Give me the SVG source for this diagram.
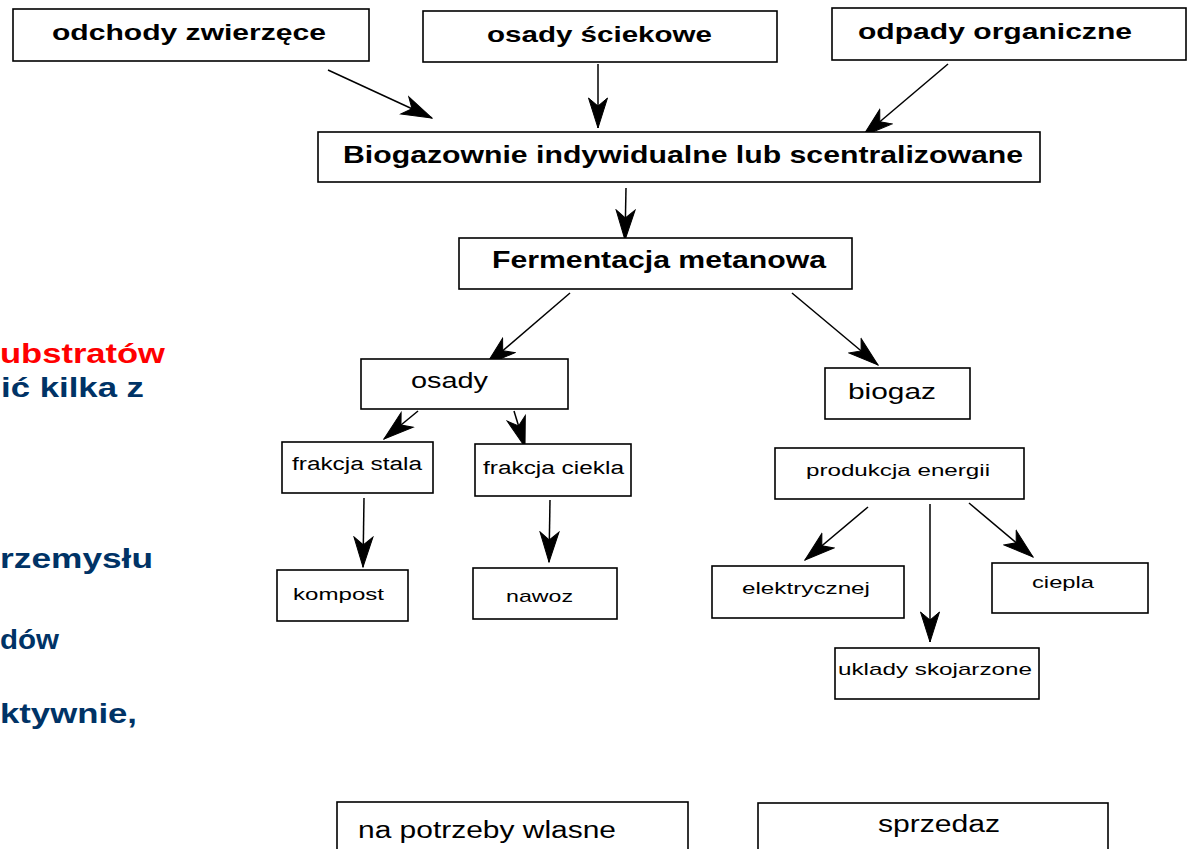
<svg xmlns="http://www.w3.org/2000/svg" width="1188" height="849" viewBox="0 0 1188 849">
<style>
.box{fill:#fff;stroke:#000;stroke-width:1.6}
.b{font-family:"Liberation Sans",Arial,sans-serif;font-weight:bold;fill:#000}
.n{font-family:"Liberation Sans",Arial,sans-serif;fill:#000}
.c{stroke:#000;stroke-width:1.5;fill:none;marker-end:url(#ah)}
.bg{font-family:"Liberation Sans",Arial,sans-serif;font-weight:bold;font-size:28px;fill:#003366}
</style>
<defs>
<marker id="ah" markerUnits="userSpaceOnUse" viewBox="-31 -11 32 22" refX="0" refY="0" markerWidth="32" markerHeight="22" orient="auto">
<path d="M0,0 L-30,-9.5 L-22,0 L-30,9.5 Z" fill="#000" stroke="#000" stroke-width="1" stroke-linejoin="miter"/>
</marker>
</defs>
<rect width="1188" height="849" fill="#fff"/>
<g id="background-text">
<text class="b" x="0" y="363" font-size="27" style="fill:#ff0000" textLength="165" lengthAdjust="spacingAndGlyphs">ubstratów</text>
<text class="bg" x="1" y="397" textLength="143" lengthAdjust="spacingAndGlyphs">ić kilka z</text>
<text class="bg" x="0" y="568" textLength="153" lengthAdjust="spacingAndGlyphs">rzemysłu</text>
<text class="bg" x="0" y="649" textLength="59" lengthAdjust="spacingAndGlyphs">dów</text>
<text class="bg" x="0" y="723" textLength="137" lengthAdjust="spacingAndGlyphs">ktywnie,</text>
</g>
<g id="connectors">
<line class="c" x1="328" y1="70" x2="432" y2="118"/>
<line class="c" x1="598" y1="64" x2="598" y2="128"/>
<line class="c" x1="948" y1="64" x2="863" y2="136"/>
<line class="c" x1="626" y1="188" x2="625" y2="240"/>
<line class="c" x1="570" y1="293" x2="486" y2="365"/>
<line class="c" x1="792" y1="293" x2="878" y2="365"/>
<line class="c" x1="418" y1="411" x2="384" y2="439"/>
<line class="c" x1="514" y1="411" x2="525" y2="447"/>
<line class="c" x1="364" y1="498" x2="363" y2="567"/>
<line class="c" x1="550" y1="500" x2="549" y2="562"/>
<line class="c" x1="868" y1="507" x2="805" y2="560"/>
<line class="c" x1="930" y1="504" x2="930" y2="642"/>
<line class="c" x1="969" y1="503" x2="1033" y2="557"/>
</g>
<g id="odchody">
<rect class="box" x="13" y="9" width="356" height="52"/>
<text class="b" x="52" y="40" font-size="22" textLength="274" lengthAdjust="spacingAndGlyphs">odchody zwierzęce</text>
</g>
<g id="osady-sciekowe">
<rect class="box" x="423" y="11" width="354" height="51"/>
<text class="b" x="487" y="42" font-size="22" textLength="225" lengthAdjust="spacingAndGlyphs">osady ściekowe</text>
</g>
<g id="odpady">
<rect class="box" x="832" y="8" width="354" height="52"/>
<text class="b" x="858" y="39" font-size="22" textLength="274" lengthAdjust="spacingAndGlyphs">odpady organiczne</text>
</g>
<g id="biogazownie">
<rect class="box" x="318" y="132" width="722" height="50"/>
<text class="b" x="343" y="163" font-size="23" textLength="680" lengthAdjust="spacingAndGlyphs">Biogazownie indywidualne lub scentralizowane</text>
</g>
<g id="fermentacja">
<rect class="box" x="459" y="238" width="393" height="51"/>
<text class="b" x="492" y="268" font-size="23" textLength="334" lengthAdjust="spacingAndGlyphs">Fermentacja metanowa</text>
</g>
<g id="osady">
<rect class="box" x="361" y="359" width="207" height="50"/>
<text class="n" x="411" y="388" font-size="22" textLength="77" lengthAdjust="spacingAndGlyphs">osady</text>
</g>
<g id="biogaz">
<rect class="box" x="825" y="368" width="145" height="51"/>
<text class="n" x="848" y="399" font-size="22" textLength="88" lengthAdjust="spacingAndGlyphs">biogaz</text>
</g>
<g id="frakcja-stala">
<rect class="box" x="282" y="442" width="151" height="51"/>
<text class="n" x="292" y="470" font-size="18" textLength="130" lengthAdjust="spacingAndGlyphs">frakcja stala</text>
</g>
<g id="frakcja-ciekla">
<rect class="box" x="475" y="444" width="156" height="52"/>
<text class="n" x="483" y="474" font-size="18" textLength="141" lengthAdjust="spacingAndGlyphs">frakcja ciekla</text>
</g>
<g id="produkcja">
<rect class="box" x="775" y="448" width="249" height="51"/>
<text class="n" x="806" y="476" font-size="17" textLength="184" lengthAdjust="spacingAndGlyphs">produkcja energii</text>
</g>
<g id="kompost">
<rect class="box" x="277" y="570" width="131" height="51"/>
<text class="n" x="293" y="600" font-size="17" textLength="91" lengthAdjust="spacingAndGlyphs">kompost</text>
</g>
<g id="nawoz">
<rect class="box" x="473" y="568" width="144" height="51"/>
<text class="n" x="506" y="602" font-size="17" textLength="67" lengthAdjust="spacingAndGlyphs">nawoz</text>
</g>
<g id="elektrycznej">
<rect class="box" x="712" y="566" width="192" height="52"/>
<text class="n" x="742" y="594" font-size="17" textLength="128" lengthAdjust="spacingAndGlyphs">elektrycznej</text>
</g>
<g id="ciepla">
<rect class="box" x="992" y="563" width="156" height="50"/>
<text class="n" x="1032" y="588" font-size="17" textLength="62" lengthAdjust="spacingAndGlyphs">ciepla</text>
</g>
<g id="uklady">
<rect class="box" x="835" y="648" width="204" height="51"/>
<text class="n" x="838" y="675" font-size="17" textLength="194" lengthAdjust="spacingAndGlyphs">uklady skojarzone</text>
</g>
<g id="na-potrzeby">
<rect class="box" x="337" y="802" width="351" height="60"/>
<text class="n" x="358" y="838" font-size="23" textLength="258" lengthAdjust="spacingAndGlyphs">na potrzeby wlasne</text>
</g>
<g id="sprzedaz">
<rect class="box" x="758" y="803" width="350" height="60"/>
<text class="n" x="878" y="832" font-size="23" textLength="122" lengthAdjust="spacingAndGlyphs">sprzedaz</text>
</g>
</svg>
